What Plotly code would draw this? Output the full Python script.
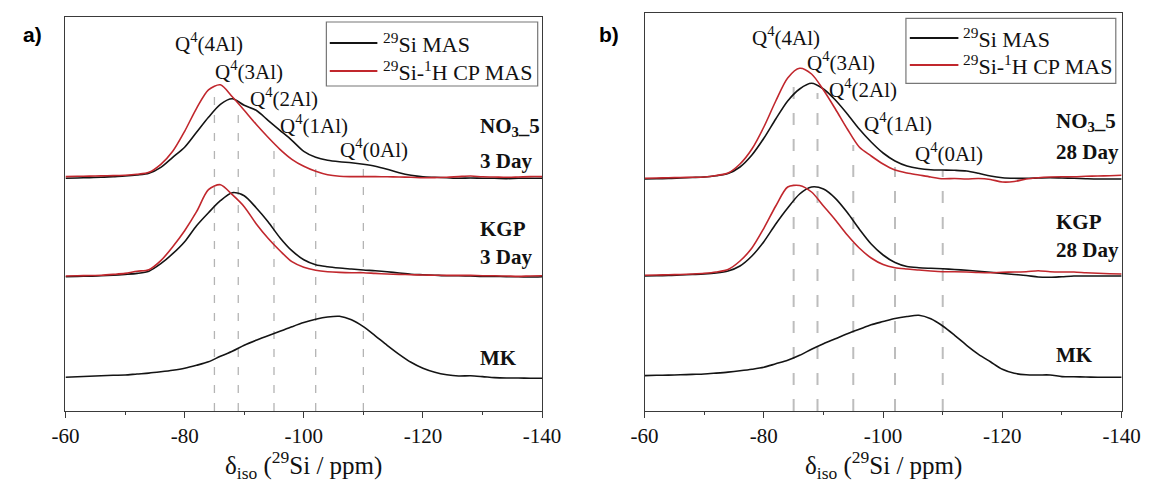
import plotly.graph_objects as go

W, H = 1162, 482

# ---------------------------------------------------------------- data
PPM = list(range(-60, -141, -2))
TICK_VALS = [-60, -80, -100, -120, -140]
TICK_TEXT = ["-60", "-80", "-100", "-120", "-140"]
MINOR_TICKS = [-70, -90, -110, -130]

Q4_SITES = [-85, -89, -95, -102, -110]
Q4_NAMES = ["Q<sup>4</sup>(4Al)", "Q<sup>4</sup>(3Al)", "Q<sup>4</sup>(2Al)",
            "Q<sup>4</sup>(1Al)", "Q<sup>4</sup>(0Al)"]

# panel a) – 3 days of curing (intensity, a.u.)
a_no3_mas = [0, 0.3, 0.7, 1, 1.7, 2.3, 3.3, 5, 11, 21, 31, 46, 61, 74, 79.5, 73, 68, 58, 48, 38,
             27, 21, 18, 16.5, 15.5, 14, 12, 9, 5.5, 3, 1.5, 1, 0.5, 0, 0.3, 0, 0, -0.3, 0, 0, 0]
a_no3_cp = [1.7, 2, 2.2, 2.4, 2.7, 3, 4, 6, 14, 27, 47, 70, 88.5, 93.5, 81.5, 68, 54, 41, 29, 19,
            12, 7, 3.5, 2, 1.7, 1.7, 1.7, 1.5, 1.3, 1, 0.5, 0.7, 1, 1.7, 2.3, 1.5, 1.3, 1, 1.3, 1.7, 1.7]
a_kgp_mas = [0, 0.3, 0.5, 1, 1.5, 2.3, 3.3, 5.5, 13, 23, 35, 51, 64, 76, 84, 81, 69, 55, 39, 26,
             17, 12, 10, 8.7, 7.7, 6.7, 6, 5, 3.7, 2.5, 2, 1.5, 1, 1, 0.7, 0.3, 0.3, 0, 0, -0.3, 0]
a_kgp_cp = [0.7, 1, 1.2, 1.5, 2.3, 3.3, 5.5, 7, 16, 30, 46, 65, 87, 92, 82, 70, 53, 38.5, 26, 15,
            9.5, 6.5, 5, 4.3, 4, 4, 3.3, 2.7, 2.3, 2, 1.7, 1.5, 1.3, 1.3, 1.3, 1, 1, 0.7, 0.3, 0.7, 1]
a_mk = [1, 1.5, 2, 2.5, 3, 3.3, 4.3, 5.2, 6.5, 8, 10, 13, 16.5, 22, 27, 33, 38, 42.5, 47, 51.5,
        55.7, 59, 61.3, 62, 58.5, 51.7, 42.5, 33, 24, 16, 10, 6, 3.5, 2.3, 2.5, 1.7, 0.7, 0.3, 0.3, 0, 0]

# panel b) – 28 days of curing (intensity, a.u.)
b_no3_mas = [0, 0.3, 0.5, 1, 1.5, 2, 3.3, 5.5, 12, 24, 40.7, 60, 78, 90, 95.7, 90, 79, 65, 50, 37,
             26, 18, 13, 10.5, 9.3, 9, 8.7, 8, 5.7, 3, 1.3, 0.7, 0.7, 1, 1.3, 1, 0.7, 0.3, 0, 0, 0]
b_no3_cp = [0.7, 1, 1.2, 1.5, 1.7, 2, 3.5, 6, 15, 30, 52, 78, 101, 110.7, 105, 89, 70, 50, 32, 23,
            15, 9, 6, 4, 2, 0.3, 0.5, 0, 0.5, -0.5, -3, -2.5, 0, 1.3, 2, 2.3, 2.3, 2.7, 3, 3.3, 3.7]
b_kgp_mas = [0, 0.3, 0.5, 1, 1.5, 2, 3, 5, 10, 20, 34.3, 52, 68, 82, 89, 87, 77.7, 63.5, 47, 32,
             21, 13.5, 9.5, 8.3, 7.7, 7.2, 6.5, 5.7, 4.7, 3.7, 2.5, 1.5, 0.5, -1, -1.3, -0.7, 0, 0, 0, 0, 0]
b_kgp_cp = [0.7, 1, 1.2, 1.5, 2, 2.7, 4, 6.5, 15, 28, 47.7, 70, 89, 90.5, 84, 70, 56, 41, 28, 18,
            11.5, 8.3, 7, 6, 5, 4.3, 4.3, 4, 3.5, 3.3, 3.7, 4, 4.3, 5.3, 4.3, 4, 4, 3.3, 2.7, 2.3, 2]
b_mk = [1.7, 2, 2.2, 2.5, 2.9, 3.3, 4.2, 5.2, 6.5, 8, 10, 13.5, 17, 22, 28, 33.5, 38.5, 43.5, 48, 52.5,
        55.7, 58.8, 60.8, 62, 58.5, 51.3, 42, 32, 23, 15.5, 8, 4, 2.5, 2.3, 2.3, 0.7, 0.5, 0.3, 0, 0, 0]

SERIES_NAMES = ["<sup>29</sup>Si MAS", "<sup>29</sup>Si-<sup>1</sup>H CP MAS"]

# ---------------------------------------------------------------- styling
BLACK = "#141414"
RED = "#c1272d"
FRAME = "#3a3a3a"
SERIF = "Liberation Serif, Times New Roman, serif"
SANS = "Liberation Sans, Arial, sans-serif"


def px(x, y):
    """pixel position -> paper coordinates"""
    return x / W, 1 - y / H


PANELS = [
    dict(
        ax="", x0=53, x1=543.5, y0=17, y1=411,
        tag="a)", tag_xy=(19, 35),
        samples=[
            (232.7, a_no3_mas, a_no3_cp, ["NO<sub>3</sub>_5", "3 Day"], [127, 161]),
            (134.3, a_kgp_mas, a_kgp_cp, ["KGP", "3 Day"], [229, 257]),
            (32.7, a_mk, None, ["MK"], [358]),
        ],
        label_x=478,
        dash_top=[321, 306, 269, 251, 244],
        dash_style=dict(color="#b4b4b4", width=1.3, dash="8px,10px"),
        q_pos=[(201, 42), (242, 70), (278, 98), (309, 125), (371, 148)],
        legend=dict(box=(321.5, 22, 539, 86), line=(325, 374), text_x=378, rows=(43, 71)),
    ),
    dict(
        ax="2", x0=649, x1=1140, y0=13.3, y1=411,
        tag="b)", tag_xy=(612, 35),
        samples=[
            (232.0, b_no3_mas, b_no3_cp, ["NO<sub>3</sub>_5", "28 Day"], [122, 152]),
            (135.0, b_kgp_mas, b_kgp_cp, ["KGP", "28 Day"], [222, 250]),
            (33.7, b_mk, None, ["MK"], [355]),
        ],
        label_x=1070,
        dash_top=[333, 318, 266, 244, 241],
        dash_style=dict(color="#bdbdbd", width=2, dash="12px,14px"),
        q_pos=[(795, 37), (851, 61), (874, 88), (910, 123), (962, 152)],
        legend=dict(box=(918, 18.3, 1134, 83.3), line=(922, 972), text_x=975, rows=(38, 65)),
    ),
]

fig = go.Figure()
annotations = []
shapes = []
layout_axes = {}

for p in PANELS:
    xa, ya = "x" + p["ax"], "y" + p["ax"]
    height = p["y1"] - p["y0"]

    # Q4 site markers
    for site, top in zip(Q4_SITES, p["dash_top"]):
        fig.add_trace(go.Scatter(x=[site, site], y=[0, top], mode="lines",
                                 line=p["dash_style"], xaxis=xa, yaxis=ya,
                                 showlegend=False, hoverinfo="skip"))

    # stacked spectra
    for offset, mas, cp, _, _ in p["samples"]:
        fig.add_trace(go.Scatter(x=PPM, y=[offset + v for v in mas], mode="lines",
                                 line=dict(color=BLACK, width=1.6, shape="spline", smoothing=0.8),
                                 xaxis=xa, yaxis=ya, showlegend=False, name=SERIES_NAMES[0]))
        if cp is not None:
            fig.add_trace(go.Scatter(x=PPM, y=[offset + v for v in cp], mode="lines",
                                     line=dict(color=RED, width=1.6, shape="spline", smoothing=0.8),
                                     xaxis=xa, yaxis=ya, showlegend=False, name=SERIES_NAMES[1]))

    # axes
    xd = [p["x0"] / W, p["x1"] / W]
    yd = [1 - p["y1"] / H, 1 - p["y0"] / H]
    key = p["ax"]
    layout_axes["xaxis" + key] = dict(
        domain=xd, range=[-60, -140], autorange=False, anchor=ya,
        showline=True, linecolor=FRAME, linewidth=1.3, mirror=True,
        showgrid=False, zeroline=False,
        tickvals=TICK_VALS, ticktext=TICK_TEXT, ticks="outside", ticklen=6,
        tickwidth=1.2, tickcolor=FRAME,
        tickfont=dict(family=SERIF, size=21, color="#111"),
        minor=dict(tickvals=MINOR_TICKS, ticks="outside", ticklen=3, tickwidth=1.1,
                   tickcolor=FRAME, showgrid=False),
    )
    layout_axes["yaxis" + key] = dict(
        domain=yd, range=[0, height], autorange=False, anchor=xa,
        showline=True, linecolor=FRAME, linewidth=1.3, mirror=True,
        showgrid=False, zeroline=False, showticklabels=False, ticks="",
    )

    # axis title
    cx = (p["x0"] + p["x1"]) / 2
    ax_, ay_ = px(cx, 465)
    annotations.append(dict(text="δ<sub>iso</sub> (<sup>29</sup>Si / ppm)", x=ax_, y=ay_,
                            xref="paper", yref="paper", showarrow=False,
                            xanchor="center", yanchor="middle",
                            font=dict(family=SERIF, size=25, color="#111")))

    # panel tag
    tx, ty = px(*p["tag_xy"])
    annotations.append(dict(text="<b>%s</b>" % p["tag"], x=tx, y=ty, xref="paper", yref="paper",
                            showarrow=False, xanchor="center", yanchor="middle",
                            font=dict(family=SANS, size=21, color="#000")))

    # site labels
    for name, (qx, qy) in zip(Q4_NAMES, p["q_pos"]):
        lx, ly = px(qx, qy)
        annotations.append(dict(text=name, x=lx, y=ly, xref="paper", yref="paper",
                                showarrow=False, xanchor="center", yanchor="middle",
                                font=dict(family=SERIF, size=21, color="#111")))

    # sample labels
    for _, _, _, lines, ys in p["samples"]:
        for txt, yy in zip(lines, ys):
            lx, ly = px(p["label_x"], yy)
            annotations.append(dict(text="<b>%s</b>" % txt, x=lx, y=ly, xref="paper", yref="paper",
                                    showarrow=False, xanchor="left", yanchor="middle",
                                    font=dict(family=SERIF, size=21, color="#111")))

    # legend box
    lg = p["legend"]
    bx0, by0 = px(lg["box"][0], lg["box"][1])
    bx1, by1 = px(lg["box"][2], lg["box"][3])
    shapes.append(dict(type="rect", xref="paper", yref="paper", x0=bx0, y0=by1, x1=bx1, y1=by0,
                       line=dict(color="#777", width=1.2), fillcolor="white", layer="above"))
    for name, color, row in zip(SERIES_NAMES, [BLACK, RED], lg["rows"]):
        sx0, sy = px(lg["line"][0], row)
        sx1, _ = px(lg["line"][1], row)
        shapes.append(dict(type="line", xref="paper", yref="paper", x0=sx0, x1=sx1, y0=sy, y1=sy,
                           line=dict(color=color, width=1.8), layer="above"))
        tx_, ty_ = px(lg["text_x"], row)
        annotations.append(dict(text=name, x=tx_, y=ty_, xref="paper", yref="paper",
                                showarrow=False, xanchor="left", yanchor="middle",
                                font=dict(family=SERIF, size=22, color="#111")))

fig.update_layout(
    width=W, height=H, autosize=False,
    margin=dict(l=0, r=0, t=0, b=0),
    paper_bgcolor="white", plot_bgcolor="white",
    showlegend=False,
    annotations=annotations, shapes=shapes,
    **layout_axes,
)

fig.write_html("out.html", config={"displayModeBar": False})
